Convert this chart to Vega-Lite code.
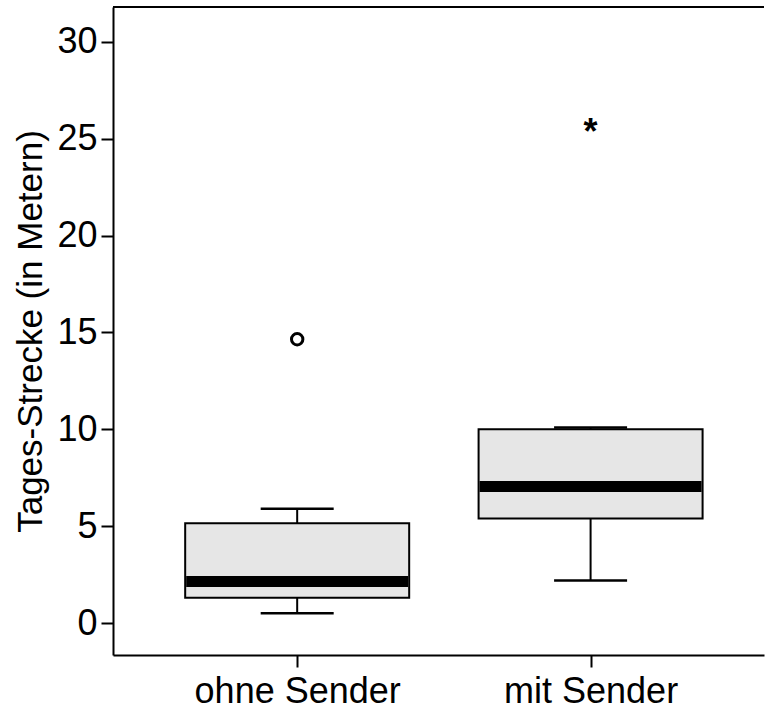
{
  "$schema": "https://vega.github.io/schema/vega-lite/v6.json",
  "width": 651,
  "height": 648,
  "autosize": "none",
  "padding": {"left": 113, "top": 7, "right": 1, "bottom": 55},
  "background": "white",
  "config": {
    "view": {"stroke": null},
    "font": "Liberation Sans",
    "axis": {
      "grid": false,
      "domainColor": "black",
      "domainWidth": 2,
      "tickColor": "black",
      "tickWidth": 2,
      "tickSize": 12,
      "labelColor": "black",
      "labelFontSize": 36,
      "labelLimit": 0,
      "titleColor": "black",
      "titleFontWeight": "normal"
    }
  },
  "datasets": {
    "boxes": [
      {"group": "ohne Sender", "pos": 1, "lower": 0.5, "q1": 1.3, "median": 2.15, "q3": 5.15, "upper": 5.9},
      {"group": "mit Sender", "pos": 2, "lower": 2.2, "q1": 5.4, "median": 7.05, "q3": 10.0, "upper": 10.1}
    ],
    "outliers": [
      {"group": "ohne Sender", "pos": 1, "value": 14.65, "kind": "Ausreißer"}
    ],
    "extremes": [
      {"group": "mit Sender", "pos": 2, "value": 25.65, "kind": "Extremwert"}
    ],
    "frame": [{"top": 31.8}]
  },
  "encoding": {
    "x": {
      "field": "pos",
      "type": "quantitative",
      "scale": {"domain": [0.3893, 2.574], "nice": false, "zero": false},
      "axis": {
        "values": [1, 2],
        "labelExpr": "datum.value == 1 ? 'ohne Sender' : 'mit Sender'",
        "title": null,
        "labelPadding": 7,
        "labelFontSize": 36,
        "labelLimit": 0
      }
    }
  },
  "layer": [
    {
      "data": {"name": "frame"},
      "mark": {"type": "rule", "color": "black", "strokeWidth": 2},
      "encoding": {
        "x": null,
        "y": {"field": "top", "type": "quantitative"}
      }
    },
    {
      "data": {"name": "boxes"},
      "mark": {"type": "rule", "color": "black", "strokeWidth": 2},
      "encoding": {
        "y": {
          "field": "q3",
          "type": "quantitative",
          "scale": {"domain": [-1.65, 31.8], "nice": false, "zero": false},
          "axis": {
            "values": [0, 5, 10, 15, 20, 25, 30],
            "title": "Tages-Strecke (in Metern)",
            "titleFontSize": 35,
            "titlePadding": 8,
            "labelPadding": 4,
            "labelFontSize": 36
          }
        },
        "y2": {"field": "upper"}
      }
    },
    {
      "data": {"name": "boxes"},
      "mark": {"type": "rule", "color": "black", "strokeWidth": 2},
      "encoding": {
        "y": {"field": "lower", "type": "quantitative"},
        "y2": {"field": "q1"}
      }
    },
    {
      "data": {"name": "boxes"},
      "mark": {"type": "tick", "orient": "horizontal", "color": "black", "size": 73, "thickness": 2.5, "opacity": 1},
      "encoding": {
        "y": {"field": "upper", "type": "quantitative"}
      }
    },
    {
      "data": {"name": "boxes"},
      "mark": {"type": "tick", "orient": "horizontal", "color": "black", "size": 73, "thickness": 2.5, "opacity": 1},
      "encoding": {
        "y": {"field": "lower", "type": "quantitative"}
      }
    },
    {
      "data": {"name": "boxes"},
      "mark": {"type": "bar", "size": 224, "fill": "#e6e6e6", "stroke": "black", "strokeWidth": 2, "opacity": 1},
      "encoding": {
        "y": {"field": "q1", "type": "quantitative"},
        "y2": {"field": "q3"}
      }
    },
    {
      "data": {"name": "boxes"},
      "mark": {"type": "tick", "orient": "horizontal", "color": "black", "size": 222, "thickness": 11, "opacity": 1},
      "encoding": {
        "y": {"field": "median", "type": "quantitative"}
      }
    },
    {
      "data": {"name": "outliers"},
      "mark": {"type": "point", "shape": "circle", "filled": false, "stroke": "black", "strokeWidth": 3, "size": 130, "opacity": 1},
      "encoding": {
        "y": {"field": "value", "type": "quantitative"}
      }
    },
    {
      "data": {"name": "extremes"},
      "mark": {"type": "text", "text": "*", "fontSize": 36, "fontWeight": "bold", "baseline": "middle", "align": "center", "dy": 7, "color": "black"},
      "encoding": {
        "y": {"field": "value", "type": "quantitative"}
      }
    }
  ]
}
